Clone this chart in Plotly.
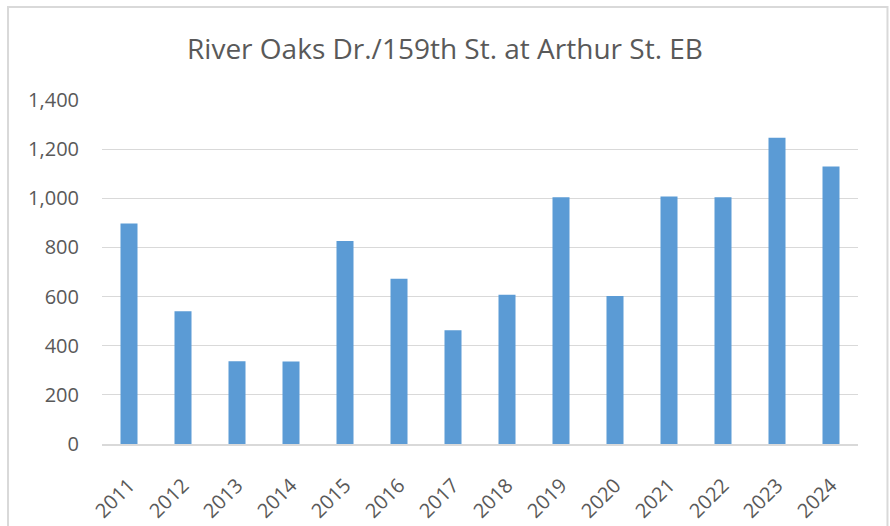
import plotly.graph_objects as go

# =========================================================
# Data
# =========================================================
years = ["2011", "2012", "2013", "2014", "2015", "2016", "2017",
         "2018", "2019", "2020", "2021", "2022", "2023", "2024"]
volumes = [897, 540, 337, 336, 826, 673, 463,
           607, 1004, 602, 1007, 1004, 1246, 1129]

TITLE = "River Oaks Dr./159th St. at Arthur St. EB"
BAR_COLOR = "#5B9BD5"
TEXT_COLOR = "#595959"
GRID_COLOR = "#D9D9D9"
FONT = "Open Sans, Noto Sans, Arial, sans-serif"

fig = go.Figure(
    go.Bar(x=years, y=volumes, marker=dict(color=BAR_COLOR, line=dict(width=0)))
)

# outer chart frame
fig.add_shape(
    type="rect", xref="paper", yref="paper",
    x0=-0.1243, x1=1.039, y0=-0.35, y1=1.270,
    line=dict(color=GRID_COLOR, width=2), fillcolor="rgba(0,0,0,0)",
    layer="below",
)

fig.update_layout(
    width=890,
    height=526,
    paper_bgcolor="white",
    plot_bgcolor="white",
    font=dict(family=FONT, size=20, color=TEXT_COLOR),
    title=dict(
        text=TITLE, x=0.5, xanchor="center", y=0.907, yanchor="middle",
        font=dict(family=FONT, size=28, color=TEXT_COLOR),
    ),
    margin=dict(l=102, r=32, t=100, b=82),
    bargap=0.685,
    showlegend=False,
    xaxis=dict(
        tickangle=-45,
        automargin=False,
        showgrid=False,
        showline=True,
        linecolor=GRID_COLOR,
        linewidth=1.5,
        ticks="",
        ticklabelstandoff=20,
        tickfont=dict(size=20, color=TEXT_COLOR),
    ),
    yaxis=dict(
        range=[0, 1400],
        automargin=False,
        tickvals=[0, 200, 400, 600, 800, 1000, 1200, 1400],
        tickformat=",d",
        showgrid=True,
        gridcolor=GRID_COLOR,
        gridwidth=1.2,
        zeroline=False,
        showline=False,
        ticks="",
        ticklabelstandoff=22,
        tickfont=dict(size=20, color=TEXT_COLOR),
    ),
)

# drop the default page margin so the 890x526 figure fills the window exactly
fig.write_html(
    "out.html",
    config={"displayModeBar": False},
    post_script="document.body.style.margin='0';document.body.style.overflow='hidden';",
)
